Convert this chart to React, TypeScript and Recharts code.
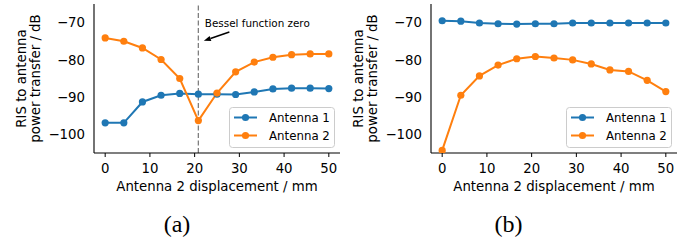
import React from "react";
import { Legend, Line, LineChart, ReferenceLine, XAxis, YAxis } from "recharts";

const DISPLACEMENT = [0, 4.17, 8.33, 12.5, 16.67, 20.83, 25, 29.17, 33.33, 37.5, 41.67, 45.83, 50];

// panel (a)
const A_ANTENNA_1 = [-96.9, -96.9, -91.3, -89.5, -89.0, -89.2, -89.2, -89.3, -88.6, -87.8, -87.6, -87.6, -87.7];
const A_ANTENNA_2 = [-74.1, -75.0, -76.8, -79.9, -85.0, -96.3, -88.9, -83.2, -80.6, -79.3, -78.6, -78.4, -78.4];

// panel (b)
const B_ANTENNA_1 = [-69.5, -69.6, -70.1, -70.3, -70.4, -70.3, -70.3, -70.1, -70.1, -70.1, -70.1, -70.1, -70.1];
const B_ANTENNA_2 = [-104.3, -89.5, -84.3, -81.4, -79.7, -79.1, -79.5, -80.0, -81.1, -82.7, -83.1, -85.5, -88.5];

const X_TICKS = [0, 10, 20, 30, 40, 50];
const Y_TICKS = [-100, -90, -80, -70];
const BESSEL_ZERO = 20.83;

const COLORS = { a1: "#1f77b4", a2: "#ff7f0e" };
const FONT = "DejaVu Sans";

const minus = (v: number) => String(v).replace("-", "\u2212");

function YTitle() {
  const cy = 78.5;
  return (
    <g fontFamily={FONT} fontSize={13.3} fill="#000">
      <text x={25.5} y={cy} textAnchor="middle" transform={`rotate(-90 25.5 ${cy})`}>
        RIS to antenna
      </text>
      <text x={40} y={cy} textAnchor="middle" transform={`rotate(-90 40 ${cy})`}>
        power transfer / dB
      </text>
    </g>
  );
}

function BesselLabel(props: any) {
  const { x, y } = props.viewBox;
  const tail = [x + 31, y + 28];
  const head = [x + 5.5, y + 36.7];
  const dx = head[0] - tail[0];
  const dy = head[1] - tail[1];
  const len = Math.hypot(dx, dy);
  const ux = dx / len;
  const uy = dy / len;
  const bx = head[0] - 7 * ux;
  const by = head[1] - 7 * uy;
  const nx = -uy * 2.6;
  const ny = ux * 2.6;
  return (
    <g>
      <text x={x + 6.5} y={y + 22.5} fontFamily={FONT} fontSize={10.4} fill="#000">
        Bessel function zero
      </text>
      <line x1={tail[0]} y1={tail[1]} x2={bx} y2={by} stroke="#000" strokeWidth={1.5} />
      <polygon points={`${head[0]},${head[1]} ${bx + nx},${by + ny} ${bx - nx},${by - ny}`} fill="#000" />
    </g>
  );
}

function LegendBox(props: any) {
  const items = props.payload || [];
  return (
    <svg width={106} height={41} style={{ display: "block" }}>
      <rect x={0.5} y={0.5} width={105} height={40} rx={3} fill="rgba(255,255,255,0.8)" stroke="#cccccc" />
      {items.map((it: any, i: number) => {
        const cy = 10.5 + i * 18;
        return (
          <g key={it.value}>
            <line x1={5} y1={cy} x2={28} y2={cy} stroke={it.color} strokeWidth={2} />
            <circle cx={16.5} cy={cy} r={3.6} fill={it.color} />
            <text x={40} y={cy + 4.3} fontFamily={FONT} fontSize={11.8} fill="#000">
              {it.value}
            </text>
          </g>
        );
      })}
    </svg>
  );
}

function Panel({ a1, a2, bessel }: { a1: number[]; a2: number[]; bessel?: boolean }) {
  const data = DISPLACEMENT.map((x, i) => ({ x, a1: a1[i], a2: a2[i] }));
  const tick = { fill: "#000", fontSize: 13.3, fontFamily: FONT };
  return (
    <LineChart width={345} height={200} data={data} margin={{ top: 4, right: 5, bottom: 0, left: 0 }}>
      <XAxis
        dataKey="x"
        type="number"
        domain={[-2.5, 52.5]}
        ticks={X_TICKS}
        allowDataOverflow
        height={47}
        tick={tick}
        tickSize={4}
        tickMargin={7}
        tickLine={{ stroke: "#000" }}
        axisLine={{ stroke: "#000", strokeWidth: 1.1 }}
        label={{
          value: "Antenna 2 displacement / mm",
          position: "insideBottom",
          offset: 9,
          fill: "#000",
          fontSize: 13.3,
          fontFamily: FONT,
        }}
      />
      <YAxis
        type="number"
        domain={[-105, -65]}
        ticks={Y_TICKS}
        allowDataOverflow
        width={94}
        tick={tick}
        tickFormatter={minus}
        tickLine={false}
        tickSize={0}
        tickMargin={9}
        axisLine={{ stroke: "#000", strokeWidth: 1.1 }}
        label={<YTitle />}
      />
      {bessel && (
        <ReferenceLine
          x={BESSEL_ZERO}
          stroke="#7f7f7f"
          strokeWidth={1.3}
          strokeDasharray="5 2.5"
          label={<BesselLabel />}
        />
      )}
      <Line
        dataKey="a1"
        name="Antenna 1"
        stroke={COLORS.a1}
        strokeWidth={2}
        dot={{ r: 3.6, fill: COLORS.a1, stroke: "none" }}
        activeDot={false}
        isAnimationActive={false}
      />
      <Line
        dataKey="a2"
        name="Antenna 2"
        stroke={COLORS.a2}
        strokeWidth={2}
        dot={{ r: 3.6, fill: COLORS.a2, stroke: "none" }}
        activeDot={false}
        isAnimationActive={false}
      />
      <Legend
        layout="vertical"
        align="center"
        verticalAlign="middle"
        content={<LegendBox />}
        wrapperStyle={{ position: "absolute", left: 229, top: 107, width: 106, height: 41 }}
      />
    </LineChart>
  );
}

export default function App() {
  return (
    <div style={{ position: "absolute", left: 0, top: 0, width: 697, height: 242, background: "#fff" }}>
      <div style={{ position: "absolute", left: 0, top: 0 }}>
        <Panel a1={A_ANTENNA_1} a2={A_ANTENNA_2} bessel />
      </div>
      <div style={{ position: "absolute", left: 337, top: 0 }}>
        <Panel a1={B_ANTENNA_1} a2={B_ANTENNA_2} />
      </div>
      <svg width={697} height={42} style={{ position: "absolute", left: 0, top: 200 }}>
        <text x={177} y={32} textAnchor="middle" fontFamily="Liberation Serif" fontSize={24} fill="#000">
          (a)
        </text>
        <text x={508.5} y={32} textAnchor="middle" fontFamily="Liberation Serif" fontSize={24} fill="#000">
          (b)
        </text>
      </svg>
    </div>
  );
}
